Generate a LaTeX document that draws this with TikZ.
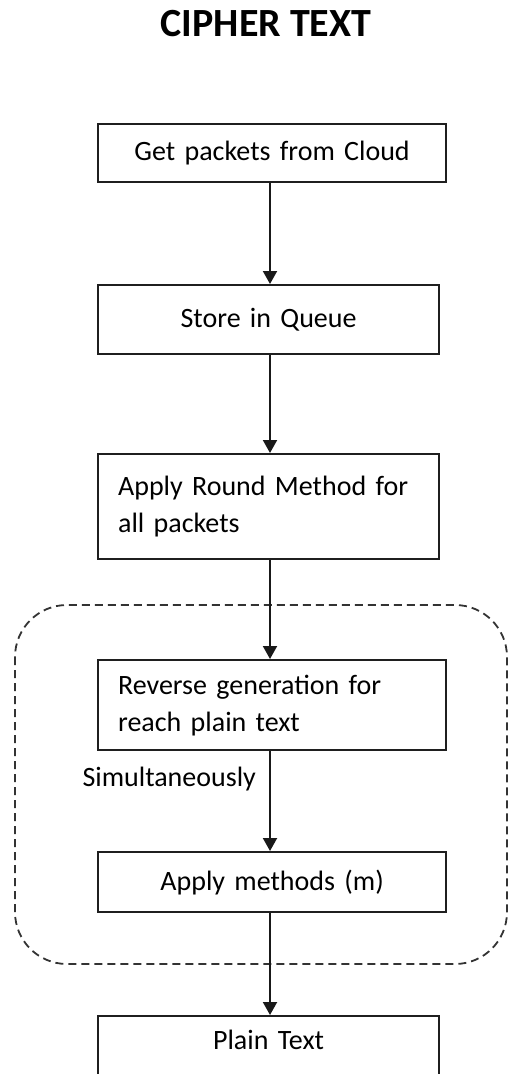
\documentclass[tikz,border=0pt]{standalone}
\usepackage{fontspec}
\setmainfont{Carlito}
\usetikzlibrary{arrows.meta}
\tikzset{
  stepbox/.style={draw=black!88, line width=2.2pt, rectangle, anchor=north west,
    inner xsep=20pt, font=\fontsize{28pt}{37pt}\selectfont},
  leftbox/.style={stepbox, align=left},
  midbox/.style={stepbox, align=center},
  flow/.style={draw=black!90, line width=2pt, -{Triangle[width=14pt,length=13pt]}},
  group/.style={draw=black!80, line width=1.8pt, dash pattern=on 8pt off 5pt, rounded corners=52pt},
}
\begin{document}
\begin{tikzpicture}[x=1pt,y=1pt]
\useasboundingbox (0,0) rectangle (509,-1074);
\clip (0,0) rectangle (509,-1074);
\fill[white] (0,0) rectangle (509,-1074);

% title
\node[font=\fontsize{40pt}{48pt}\selectfont\bfseries, anchor=base] (title) at (266,-36) {CIPHER TEXT};

% vertical axis for the connectors
\coordinate (axis) at (270,0);

% grouped region around the reverse steps
\draw[group] (15,-605) rectangle (507,-964);

% steps
\node[midbox, minimum width=348, minimum height=58, text width=308] (get) at (97,-123) {Get packets from Cloud};
\node[midbox, minimum width=341, minimum height=69, text width=301] (store) at (97,-284) {Store in Queue};
\node[leftbox, minimum width=341, minimum height=105, text width=301] (round) at (97,-453) {Apply Round Method for\\all packets};
\node[leftbox, minimum width=348, minimum height=90, text width=308] (reverse) at (97,-659) {Reverse generation for\\reach plain text};
\node[midbox, minimum width=348, minimum height=60, text width=308] (methods) at (97,-851) {Apply methods (m)};
\node[midbox, minimum width=341, text width=301, inner ysep=14pt, text depth=70pt] (plain) at (97,-1015) {Plain Text};

\node[font=\fontsize{28pt}{34pt}\selectfont, anchor=base west] (simul) at (79,-786) {Simultaneously};

% connectors
\draw[flow] (get.south -| axis) -- (store.north -| axis);
\draw[flow] (store.south -| axis) -- (round.north -| axis);
\draw[flow] (round.south -| axis) -- (reverse.north -| axis);
\draw[flow] (reverse.south -| axis) -- (methods.north -| axis);
\draw[flow] (methods.south -| axis) -- (plain.north -| axis);
\end{tikzpicture}
\end{document}
